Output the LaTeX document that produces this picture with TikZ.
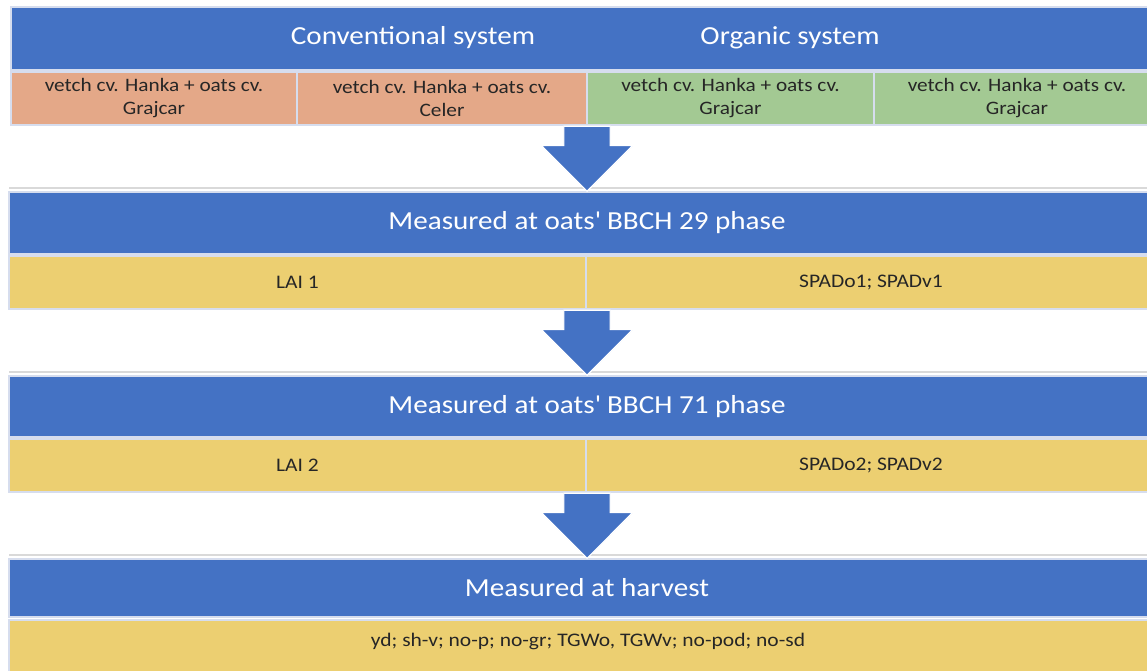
\documentclass[tikz,border=0pt]{standalone}
\usepackage{fontspec}
\setmainfont{Carlito}[FakeStretch=1.12]
\usetikzlibrary{fit,shapes.arrows}
\definecolor{bandblue}{RGB}{68,114,196}
\definecolor{salmon}{RGB}{228,168,136}
\definecolor{leaf}{RGB}{163,201,147}
\definecolor{straw}{RGB}{236,207,113}
\definecolor{rule}{RGB}{214,221,238}
\definecolor{ink}{RGB}{38,38,38}
\begin{document}
\begin{tikzpicture}[x=0.75pt,y=-0.75pt,
		box/.style={inner sep=0pt, outer sep=0pt, draw=rule, line width=0.9pt},
		title/.style={text=white, font=\fontsize{19.5}{23}\selectfont},
		sort/.style={text=ink, align=center, font=\fontsize{14.25}{17.25}\selectfont},
		trait/.style={text=ink, font=\fontsize{14.4}{17}\selectfont},
		downarrow/.style={single arrow, rotate=-90, fill=bandblue, draw=white, line width=0.8pt,
			minimum height=48.75pt, minimum width=67.5pt, single arrow head extend=16.9pt,
			single arrow tip angle=90, inner xsep=0pt, inner ysep=16.9pt},
		seam/.style={draw=black!15, line width=0.8pt}]
		\useasboundingbox (0,0) rectangle (1147,671);
		% systems and mixtures
		\node[box, fill=bandblue, fit={(11,7) (1165,70)}] (sys) {};
		\node[title] (conv) at (413,38) {Conventional system};
		\node[title] (org) at (790,38) {Organic system};
		\node[box, fill=salmon, fit={(11,72) (297,125)}] (c1) {};
		\node[box, fill=salmon, fit={(297,72) (587,125)}] (c2) {};
		\node[box, fill=leaf, fit={(587,72) (874,125)}] (c3) {};
		\node[box, fill=leaf, fit={(874,72) (1160,125)}] (c4) {};
		\node[sort] (c1txt) at (c1.center) {vetch cv. Hanka + oats cv.\\Grajcar};
		\node[sort] (c2txt) at (c2.center) {vetch cv. Hanka + oats cv.\\Celer};
		\node[sort] (c3txt) at (c3.center) {vetch cv. Hanka + oats cv.\\Grajcar};
		\node[sort] (c4txt) at (c4.center) {vetch cv. Hanka + oats cv.\\Grajcar};
		% BBCH 29
		\node[box, fill=bandblue, fit={(9,192) (1165,254)}] (m1) {};
		\node[box, fill=straw, fit={(9,256) (586,309)}] (lai1) {};
		\node[box, fill=straw, fit={(586,256) (1156,309)}] (spad1) {};
		\node[title] (m1txt) at (m1.center) {Measured at oats\textquotesingle\ BBCH 29 phase};
		\node[trait] (lai1txt) at (lai1.center) {LAI 1};
		\node[trait] (spad1txt) at (spad1.center) {SPADo1; SPADv1};
		% BBCH 71
		\node[box, fill=bandblue, fit={(9,376) (1165,437)}] (m2) {};
		\node[box, fill=straw, fit={(9,439) (586,492)}] (lai2) {};
		\node[box, fill=straw, fit={(586,439) (1156,492)}] (spad2) {};
		\node[title] (m2txt) at (m2.center) {Measured at oats\textquotesingle\ BBCH 71 phase};
		\node[trait] (lai2txt) at (lai2.center) {LAI 2};
		\node[trait] (spad2txt) at (spad2.center) {SPADo2; SPADv2};
		% harvest
		\node[box, fill=bandblue, fit={(9,559) (1165,617)}] (m3) {};
		\node[box, fill=straw, fit={(9,620) (1165,676)}] (hv) {};
		\node[title] (m3txt) at (m3.center) {Measured at harvest};
		\node[trait] (hvtxt) at (588,641) {yd; sh-v; no-p; no-gr; TGWo, TGWv; no-pod; no-sd};
		\foreach \m in {m1,m2,m3}
			\draw[seam] ([yshift=3pt]\m.north west) -- ([yshift=3pt]\m.north east);
		\node[downarrow, anchor=tip] (a1) at (m1.north) {};
		\node[downarrow, anchor=tip] (a2) at (m2.north) {};
		\node[downarrow, anchor=tip] (a3) at (m3.north) {};
\end{tikzpicture}
\end{document}
